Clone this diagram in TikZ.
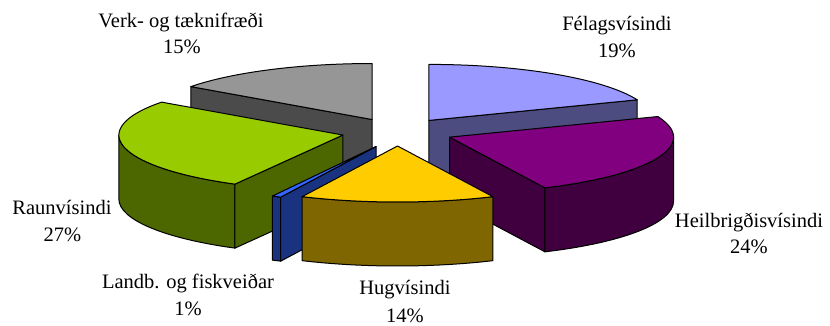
\documentclass[tikz,border=0pt]{standalone}
\usepackage{fontspec}
\setmainfont{Liberation Serif}
\definecolor{felT}{HTML}{9999FF}\definecolor{felS}{HTML}{4C4C80}
\definecolor{heiT}{HTML}{800080}\definecolor{heiS}{HTML}{400040}
\definecolor{hugT}{HTML}{FFCC00}\definecolor{hugS}{HTML}{806600}
\definecolor{lanT}{HTML}{3366FF}\definecolor{lanS}{HTML}{1A3380}
\definecolor{rauT}{HTML}{99CC00}\definecolor{rauS}{HTML}{4C6600}
\definecolor{verT}{HTML}{969696}\definecolor{verS}{HTML}{4B4B4B}
\newcommand{\pA}{224}\newcommand{\pB}{56}\newcommand{\pH}{64}
% top face
\newcommand{\topface}[3]{\filldraw[face,fill=#3] (0,0) -- (#1:\pA pt and \pB pt) arc[start angle=#1,end angle=#2,x radius=\pA,y radius=\pB] -- cycle;}
% radial face
\newcommand{\radface}[2]{\filldraw[face,fill=#2] (0,0) -- (#1:\pA pt and \pB pt) -- ++(0,-\pH) -- (0,-\pH) -- cycle;}
% outer face
\newcommand{\outface}[3]{\filldraw[face,fill=#3] (#1:\pA pt and \pB pt) arc[start angle=#1,end angle=#2,x radius=\pA,y radius=\pB] -- ++(0,-\pH) arc[start angle=#2,end angle=#1,x radius=\pA,y radius=\pB] -- cycle;}
\begin{document}
\begin{tikzpicture}[x=1pt,y=1pt,
  face/.style={draw=black,line width=1pt,line join=round},
  lbl/.style={anchor=base,inner sep=0pt,font=\fontsize{20.5}{24}\selectfont}]
\useasboundingbox (0,0) rectangle (830,326);
\begin{scope}[shift={(397.5,194)}]
  % Felagsvisindi 19%
  \begin{scope}[shift={(55.8:56pt and 14pt)}]
    \radface{21.6}{felS}
    \topface{21.6}{90}{felT}
  \end{scope}
  % Verk- og taeknifraedi 15%
  \begin{scope}[shift={(117:56pt and 14pt)}]
    \radface{144}{verS}
    \topface{90}{144}{verT}
  \end{scope}
  % Raunvisindi 27%
  \begin{scope}[shift={(192.6:56pt and 14pt)}]
    \outface{180}{241.2}{rauS}
    \radface{241.2}{rauS}
    \topface{144}{241.2}{rauT}
  \end{scope}
  % Heilbrigdisvisindi 24%
  \begin{scope}[shift={(338.4:56pt and 14pt)}]
    \radface{295.2}{heiS}
    \outface{295.2}{360}{heiS}
    \topface{295.2}{381.6}{heiT}
  \end{scope}
  % Landb. og fiskveidar 1%
  \begin{scope}[shift={(243:56pt and 14pt)},xshift=4pt,yshift=-2pt]
    \outface{242.4}{244.8}{lanS}
    \radface{244.8}{lanS}
    \topface{242.4}{244.8}{lanT}
  \end{scope}
  % Hugvisindi 14%
  \begin{scope}[shift={(270:56pt and 14pt)}]
    \outface{244.8}{295.2}{hugS}
    \topface{244.8}{295.2}{hugT}
  \end{scope}
\end{scope}
% labels
\node[lbl] (verk1) at (181,298) {Verk- og tæknifræði};
\node[lbl] (verk2) at (182,272) {15\%};
\node[lbl] (fel1) at (617,295) {Félagsvísindi};
\node[lbl] (fel2) at (617,268) {19\%};
\node[lbl] (hei1) at (749,98) {Heilbrigðisvísindi};
\node[lbl] (hei2) at (749,72) {24\%};
\node[lbl] (rau1) at (62,111) {Raunvísindi};
\node[lbl] (rau2) at (62.5,84) {27\%};
\node[lbl] (lan1) at (188,37) {Landb. og fiskveiðar};
\node[lbl] (lan2) at (188,10) {1\%};
\node[lbl] (hug1) at (405,31) {Hugvísindi};
\node[lbl] (hug2) at (405,3) {14\%};
\end{tikzpicture}
\end{document}
